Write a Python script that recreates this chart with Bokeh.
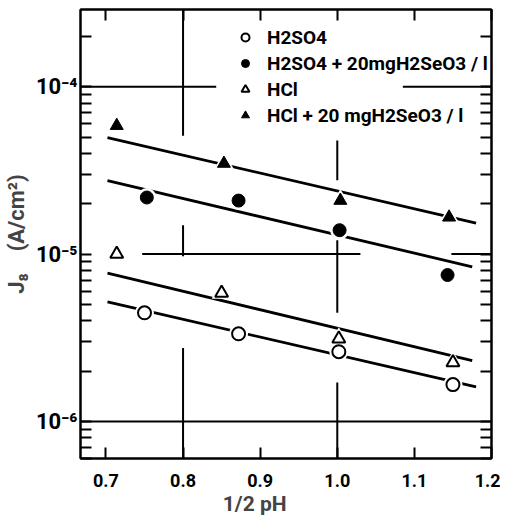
from bokeh.plotting import figure
from bokeh.models import FixedTicker, LinearAxis, LogAxis, Legend, LegendItem, Range1d
from bokeh.embed import file_html
from bokeh.resources import INLINE

# ---- data ----
x_h2so4 = [0.750, 0.872, 1.002, 1.150]
y_h2so4 = [4.46e-6, 3.34e-6, 2.61e-6, 1.66e-6]
x_h2so4_se = [0.753, 0.872, 1.003, 1.143]
y_h2so4_se = [2.18e-5, 2.09e-5, 1.39e-5, 7.5e-6]
x_hcl = [0.714, 0.850, 1.002, 1.150]
y_hcl = [1.0e-5, 5.86e-6, 3.12e-6, 2.25e-6]
x_hcl_se = [0.714, 0.853, 1.004, 1.145]
y_hcl_se = [5.86e-5, 3.48e-5, 2.09e-5, 1.66e-5]

# fitted straight lines (end points)
fit_h2so4_x = [0.702, 1.180]
fit_h2so4_y = [5.18e-6, 1.61e-6]
fit_h2so4_se_x = [0.702, 1.175]
fit_h2so4_se_y = [2.75e-5, 8.4e-6]
fit_hcl_x = [0.702, 1.175]
fit_hcl_y = [7.7e-6, 2.31e-6]
fit_hcl_se_x = [0.702, 1.180]
fit_hcl_se_y = [4.97e-5, 1.53e-5]

labels = ["H2SO4", "H2SO4 + 20mgH2SeO3 / l", "HCl", "HCl + 20 mgH2SeO3 / l"]

x_ticks = [0.7, 0.8, 0.9, 1.0, 1.1, 1.2]
x_tick_labels = ["0.7", "0.8", "0.9", "1.0", "1.1", "1.2"]
y_ticks = [1e-6, 1e-5, 1e-4]
y_tick_labels = ["10\u207b\u2076", "10\u207b\u2075", "10\u207b\u2074"]
y_minor = [k * 10.0 ** e for e in (-7, -6, -5, -4) for k in range(2, 10)]

# broken reference grid lines (as printed)
gh_y = [1e-4, 1e-4, 1e-5, 1e-5, 1e-6]
gh_x0 = [0.667, 1.085, 0.747, 1.148, 0.667]
gh_x1 = [0.843, 1.200, 1.030, 1.200, 1.200]
gv_x = [0.8, 0.8, 0.8, 1.0, 1.0, 1.0]
gv_y0 = [5.1e-5, 9.7e-6, 6.0e-7, 2.76e-5, 4.46e-6, 6.0e-7]
gv_y1 = [2.9e-4, 1.49e-5, 2.75e-6, 4.77e-5, 1.21e-5, 1.71e-6]

FONT = "Roboto"

p = figure(width=500, height=518, y_axis_type="log",
           x_range=Range1d(0.667, 1.2), y_range=Range1d(6.0e-7, 2.9e-4),
           output_backend="svg", toolbar_location=None,
           min_border_left=67, min_border_right=9, min_border_top=9, min_border_bottom=59)
p.xgrid.visible = False
p.ygrid.visible = False
p.outline_line_color = "black"
p.outline_line_width = 2
p.background_fill_color = "white"


def style_axis(ax, show_labels=True):
    ax.axis_line_width = 2
    ax.axis_line_color = "black"
    ax.major_tick_in = 11
    ax.major_tick_out = 0
    ax.minor_tick_in = 11
    ax.minor_tick_out = 0
    ax.major_tick_line_width = 2
    ax.minor_tick_line_width = 2
    ax.major_tick_line_color = "black"
    ax.minor_tick_line_color = "black"
    ax.major_label_text_font = FONT
    ax.major_label_text_font_style = "bold"
    ax.major_label_text_color = "black"
    if not show_labels:
        ax.major_label_standoff = 0


xt = FixedTicker(ticks=x_ticks, minor_ticks=[])
yt = FixedTicker(ticks=y_ticks, minor_ticks=y_minor)

xa = p.xaxis[0]
xa.ticker = xt
xa.major_label_overrides = dict(zip(x_ticks, x_tick_labels))
style_axis(xa)
xa.major_label_text_font_size = "18px"
xa.major_label_standoff = 15
xa.axis_label = "1/2 pH" + "\u00a0" * 12
xa.axis_label_text_font = FONT
xa.axis_label_text_font_style = "bold"
xa.axis_label_text_font_size = "21px"
xa.axis_label_standoff = 2

ya = p.yaxis[0]
ya.ticker = yt
ya.major_label_overrides = dict(zip(y_ticks, y_tick_labels))
style_axis(ya)
ya.major_label_text_font_size = "22px"
ya.major_label_standoff = 3
ya.axis_label = "J\u2088" + "\u00a0" * 4 + "(A/cm\u00b2)"
ya.axis_label_text_font = FONT
ya.axis_label_text_font_style = "bold"
ya.axis_label_text_font_size = "22px"
ya.axis_label_standoff = 4

top = LinearAxis(ticker=xt)
style_axis(top, show_labels=False)
top.major_label_overrides = {t: "" for t in x_ticks}
p.add_layout(top, "above")
right = LogAxis(ticker=yt)
style_axis(right, show_labels=False)
right.major_label_overrides = {t: "" for t in y_ticks}
p.add_layout(right, "right")

# grid lines
p.segment(x0=gh_x0, x1=gh_x1, y0=gh_y, y1=gh_y, line_color="black", line_width=2)
p.segment(x0=gv_x, x1=gv_x, y0=gv_y0, y1=gv_y1, line_color="black", line_width=2)

# fitted lines
for fx, fy in [(fit_h2so4_x, fit_h2so4_y), (fit_h2so4_se_x, fit_h2so4_se_y),
               (fit_hcl_x, fit_hcl_y), (fit_hcl_se_x, fit_hcl_se_y)]:
    p.line(fx, fy, line_color="black", line_width=2.8)

# white halos so lines break around markers
p.scatter(x_h2so4, y_h2so4, marker="circle", size=19, fill_color="white", line_color=None)
p.scatter(x_h2so4_se, y_h2so4_se, marker="circle", size=19, fill_color="white", line_color=None)
p.scatter(x_hcl, y_hcl, marker="triangle", size=20, fill_color="white", line_color=None)
p.scatter(x_hcl_se, y_hcl_se, marker="triangle", size=20, fill_color="white", line_color=None)

r1 = p.scatter(x_h2so4, y_h2so4, marker="circle", size=13, fill_color="white",
               line_color="black", line_width=2)
r2 = p.scatter(x_h2so4_se, y_h2so4_se, marker="circle", size=13, fill_color="black",
               line_color="black", line_width=1)
r3 = p.scatter(x_hcl, y_hcl, marker="triangle", size=13, fill_color="white",
               line_color="black", line_width=2)
r4 = p.scatter(x_hcl_se, y_hcl_se, marker="triangle", size=13, fill_color="black",
               line_color="black", line_width=1)

legend = Legend(items=[LegendItem(label=labels[0], renderers=[r1]),
                       LegendItem(label=labels[1], renderers=[r2]),
                       LegendItem(label=labels[2], renderers=[r3]),
                       LegendItem(label=labels[3], renderers=[r4])],
                location=(155, 330))
legend.border_line_color = None
legend.background_fill_alpha = 0
legend.padding = 0
legend.margin = 0
legend.spacing = 0
legend.glyph_width = 20
legend.glyph_height = 26
legend.label_height = 26
legend.label_standoff = 12
legend.label_text_font = FONT
legend.label_text_font_style = "bold"
legend.label_text_font_size = "19px"
legend.label_text_color = "black"
p.add_layout(legend)

open("out.html", "w").write(file_html(p, INLINE))
